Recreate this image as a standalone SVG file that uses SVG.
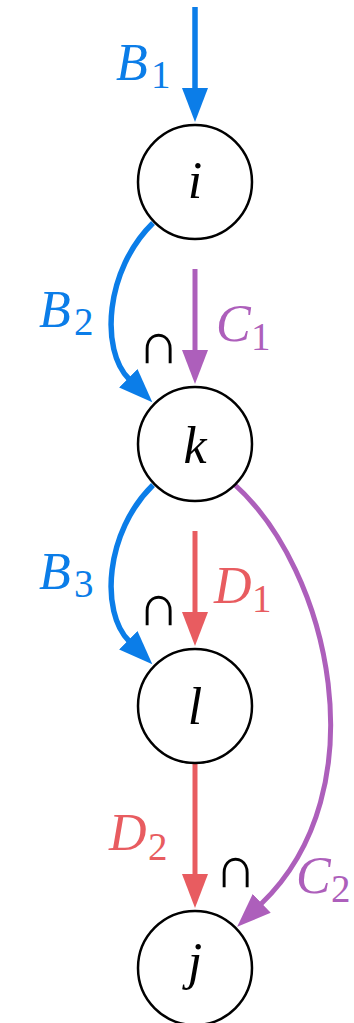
<svg xmlns="http://www.w3.org/2000/svg" width="354" height="1023" viewBox="0 0 354 1023">
<style>
.node circle{fill:#fff;stroke:#000;stroke-width:2.5}
.nl{font-family:"Liberation Serif",serif;font-style:italic;font-size:52px;fill:#000;text-anchor:middle}
.lb{font-family:"Liberation Serif",serif;font-style:italic;font-size:52px}
.sub{font-style:normal;font-size:39px}
.cap{font-family:"DejaVu Sans",sans-serif;font-weight:200;font-size:58px;fill:#000;text-anchor:middle}
.blue{stroke:#0b7de8;stroke-width:5.5;fill:none}
.purple{stroke:#ad5fbb;stroke-width:5;fill:none}
.red{stroke:#e85c60;stroke-width:5;fill:none}
</style>
<defs>
<marker id="ab" markerUnits="userSpaceOnUse" markerWidth="36" markerHeight="26" refX="1" refY="13" orient="auto"><path d="M0,0 L34,13 L0,26 z" fill="#0b7de8"/></marker>
<marker id="ap" markerUnits="userSpaceOnUse" markerWidth="36" markerHeight="26" refX="1" refY="13" orient="auto"><path d="M0,0 L34,13 L0,26 z" fill="#ad5fbb"/></marker>
<marker id="ar" markerUnits="userSpaceOnUse" markerWidth="36" markerHeight="26" refX="1" refY="13" orient="auto"><path d="M0,0 L34,13 L0,26 z" fill="#e85c60"/></marker>
</defs>
<g id="connectors">
<path class="blue" d="M195,7 L195,89" marker-end="url(#ab)"/>
<path class="blue" d="M153,223 C105,270 100,350 129,379" marker-end="url(#ab)"/>
<path class="purple" d="M195,269 L195,351" marker-end="url(#ap)"/>
<path class="blue" d="M153,485 C105,532 100,612 129,641" marker-end="url(#ab)"/>
<path class="red" d="M195,531 L195,613" marker-end="url(#ar)"/>
<path class="purple" d="M234,484 C330,570 380,790 261,904" marker-end="url(#ap)"/>
<path class="red" d="M195,763 L195,875" marker-end="url(#ar)"/>
</g>
<g id="labels">
<text class="lb" fill="#0b7de8" x="116" y="80">B<tspan class="sub" x="151" y="88">1</tspan></text>
<text class="lb" fill="#0b7de8" x="39" y="327">B<tspan class="sub" x="74" y="335">2</tspan></text>
<text class="lb" fill="#0b7de8" x="39" y="589">B<tspan class="sub" x="74" y="597">3</tspan></text>
<text class="lb" fill="#ad5fbb" x="216" y="341">C<tspan class="sub" x="251" y="350">1</tspan></text>
<text class="lb" fill="#ad5fbb" x="296" y="893">C<tspan class="sub" x="331" y="902">2</tspan></text>
<text class="lb" fill="#e85c60" x="214" y="603">D<tspan class="sub" x="252" y="612">1</tspan></text>
<text class="lb" fill="#e85c60" x="109" y="850">D<tspan class="sub" x="148" y="860">2</tspan></text>
<text class="cap" x="158.5" y="363">∩</text>
<text class="cap" x="158.5" y="625">∩</text>
<text class="cap" x="235.5" y="887">∩</text>
</g>
<g id="node-i" class="node"><circle cx="195" cy="182" r="57"/><text class="nl" x="195" y="198">i</text></g>
<g id="node-k" class="node"><circle cx="195" cy="444" r="57"/><text class="nl" x="195" y="463">k</text></g>
<g id="node-l" class="node"><circle cx="195" cy="706" r="57"/><text class="nl" x="195" y="724">l</text></g>
<g id="node-j" class="node"><circle cx="195" cy="968" r="57"/><text class="nl" x="195" y="979">j</text></g>
</svg>
